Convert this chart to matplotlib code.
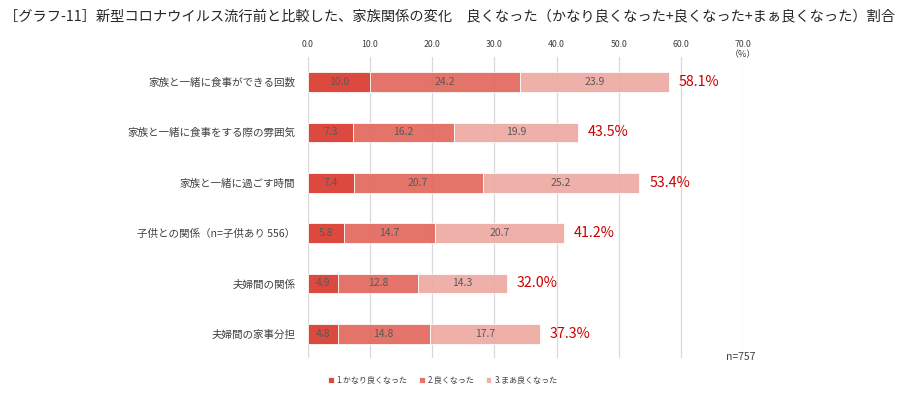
import matplotlib
matplotlib.use("Agg")
import matplotlib.pyplot as plt
import numpy as np

plt.rcParams['font.family'] = ['Noto Sans CJK JP', 'DejaVu Sans']

CATS = ["家族と一緒に食事ができる回数", "家族と一緒に食事をする際の雰囲気", "家族と一緒に過ごす時間",
        "子供との関係（n=子供あり 556）", "夫婦間の関係", "夫婦間の家事分担"]
S1 = [10.0, 7.3, 7.4, 5.8, 4.9, 4.8]
S2 = [24.2, 16.2, 20.7, 14.7, 12.8, 14.8]
S3 = [23.9, 19.9, 25.2, 20.7, 14.3, 17.7]
TOTAL = ["58.1%", "43.5%", "53.4%", "41.2%", "32.0%", "37.3%"]
SERIES = ["1.かなり良くなった", "2.良くなった", "3.まあ良くなった"]
COLORS = ["#D93A2E", "#E2675C", "#EEA9A3"]

fig = plt.figure(figsize=(9, 3.95), dpi=100)
ax = fig.add_axes([0.342, 0.094, 0.4836, 0.762])

y = np.arange(len(CATS))
left = np.zeros(len(CATS))
for vals, col, lab in zip([S1, S2, S3], COLORS, SERIES):
    vals = np.array(vals)
    ax.barh(y, vals, left=left, height=0.39, color=col, alpha=0.92,
            edgecolor="white", lw=0.6, label=lab, zorder=3)
    for yi, l, v in zip(y, left, vals):
        ax.text(l + v / 2, yi, f"{v:.1f}", ha="center", va="center",
                fontsize=7.5, color="#595959", zorder=4)
    left += vals

for yi, tot, t in zip(y, left, TOTAL):
    ax.text(tot + 1.6, yi, t, ha="left", va="center", fontsize=10.3,
            color="#CC0000", zorder=4)

ax.set_xlim(0, 70)
ax.set_ylim(5.48, -0.5)
ax.set_xticks(np.arange(0, 71, 10))
ax.set_xticklabels([f"{v:.1f}" for v in np.arange(0, 71, 10)], fontsize=6.3, color="#404040")
ax.xaxis.tick_top()
ax.tick_params(axis="x", length=0, pad=5.5)
ax.set_yticks(y)
ax.set_yticklabels(CATS, fontsize=7.6, color="#404040")
ax.tick_params(axis="y", length=0, pad=9)
ax.grid(axis="x", color="#D9D9D9", lw=0.9, zorder=0)
for s in ax.spines.values():
    s.set_visible(False)

ax.annotate("（%）", xy=(70, -0.5), xytext=(0, 1.5), textcoords="offset points",
            ha="center", va="center", fontsize=6.5, color="#404040")
fig.text(0.839, 0.097, "n=757", ha="right", va="center", fontsize=7.5, color="#404040")

fig.text(0.005, 0.958, "［グラフ-11］新型コロナウイルス流行前と比較した、家族関係の変化　良くなった（かなり良くなった+良くなった+まぁ良くなった）割合",
         ha="left", va="center", fontsize=10.25, color="#262626")

ax.legend(loc="center", bbox_to_anchor=(0.492, 0.037), bbox_transform=fig.transFigure,
          ncol=3, frameon=False, fontsize=5.8, handlelength=0.7, handleheight=0.7,
          handletextpad=0.4, columnspacing=1.4, labelcolor="#404040")

fig.savefig("out.png", dpi=100)
